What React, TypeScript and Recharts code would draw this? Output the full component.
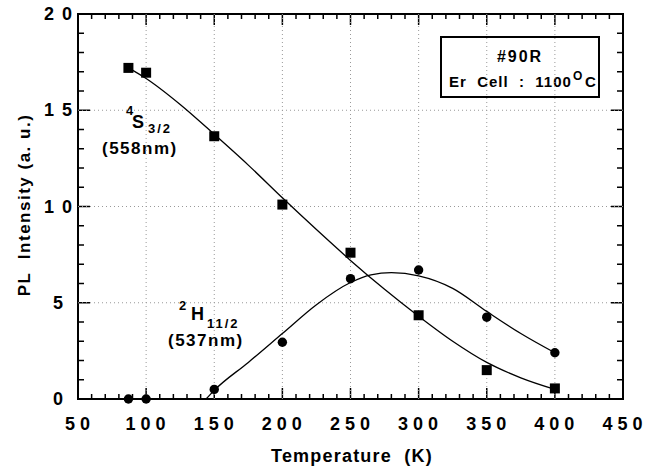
import React from 'react'
import { ComposedChart, Line, Scatter, XAxis, YAxis, ReferenceLine } from 'recharts'

// measured points (K, a.u.)
const temps = [87, 100, 150, 200, 250, 300, 350, 400]
const s32Values = [17.2, 16.95, 13.65, 10.1, 7.6, 4.35, 1.5, 0.55]
const h112Values = [0, 0, 0.5, 2.95, 6.25, 6.7, 4.25, 2.4]

// fitted curves
const s32FitX = [87, 100, 125, 150, 175, 200, 225, 250, 275, 300, 325, 350, 375, 400]
const s32FitY = [17.2, 16.65, 15.3, 13.75, 12.15, 10.45, 8.8, 7.2, 5.7, 4.3, 3.0, 1.9, 1.1, 0.5]
const h112FitX = [144, 150, 175, 200, 225, 250, 265, 280, 300, 325, 350, 375, 400]
const h112FitY = [0, 0.45, 1.9, 3.4, 4.9, 6.05, 6.45, 6.56, 6.4, 5.75, 4.55, 3.4, 2.4]

const xMajor = [50, 100, 150, 200, 250, 300, 350, 400, 450]
const yMajor = [0, 5, 10, 15, 20]
const xGrid = [100, 150, 200, 250, 300, 350, 400]
const yGrid = [5, 10, 15]

const xTicks: number[] = []
for (let v = 50; v <= 450; v += 10) xTicks.push(v)
const yTicks: number[] = []
for (let v = 0; v <= 20; v += 1) yTicks.push(v)

const X0 = 50, X1 = 450, Y0 = 0, Y1 = 20

// chart layout
const W = 659, H = 468
const M = { top: 14, right: 36, bottom: 0, left: 0 }
const XAXIS_H = 69, YAXIS_W = 78
const PL = M.left + YAXIS_W, PR = W - M.right, PT = M.top, PB = H - M.bottom - XAXIS_H
// frame + tick marks are drawn as plain svg (axis lines were not showing up)
const fx = (v: number) => PL + ((v - X0) / (X1 - X0)) * (PR - PL)
const fy = (v: number) => PB - ((v - Y0) / (Y1 - Y0)) * (PB - PT)

const FONT = '"Liberation Sans", Arial, Helvetica, sans-serif'

const zip = (xs: number[], ys: number[]) => xs.map((x, i) => ({ x, y: ys[i] }))
const s32Points = zip(temps, s32Values)
const h112Points = zip(temps, h112Values)
const s32Fit = zip(s32FitX, s32FitY)
const h112Fit = zip(h112FitX, h112FitY)

const BottomTick = ({ x, y, payload }: any) =>
  xMajor.includes(payload.value) ? (
    <text x={x + 2} y={y + 31} textAnchor="middle" fontSize={18} fontWeight="bold"
      letterSpacing={5} fontFamily={FONT} fill="#000">
      {String(payload.value)}
    </text>
  ) : null

const LeftTick = ({ x, y, payload }: any) => {
  if (!yMajor.includes(payload.value)) return null
  const label = String(payload.value)
  const two = label.length > 1
  return (
    <text x={two ? x + 2 : x - 15} y={y + 6} textAnchor="end" fontSize={18} fontWeight="bold"
      letterSpacing={two ? 8 : 0} fontFamily={FONT} fill="#000">
      {label}
    </text>
  )
}

const bold = { fontFamily: FONT, fontWeight: 'bold' as const, fill: '#000' }

export default function App() {
  return (
    <div style={{ width: W, height: H }}>
      <style>{'body{margin:0}'}</style>
      <ComposedChart width={W} height={H} margin={M}>
        <XAxis dataKey="x" type="number" domain={[X0, X1]} ticks={xTicks} interval={0}
          height={XAXIS_H} tickSize={0} tickMargin={0} tickLine={false} axisLine={false}
          tick={<BottomTick />} />
        <YAxis dataKey="y" type="number" domain={[Y0, Y1]} ticks={yTicks} interval={0}
          width={YAXIS_W} tickSize={0} tickMargin={0} tickLine={false} axisLine={false}
          tick={<LeftTick />} />

        {/* dotted grid at major ticks */}
        {xGrid.map((v) => (
          <ReferenceLine key={'gx' + v} x={v} stroke="#999" strokeDasharray="1 3" />
        ))}
        {yGrid.map((v) => (
          <ReferenceLine key={'gy' + v} y={v} stroke="#999" strokeDasharray="1 3" />
        ))}

        <Line data={s32Fit} dataKey="y" type="monotone" stroke="#000" strokeWidth={1.3}
          dot={false} activeDot={false} isAnimationActive={false} />
        <Line data={h112Fit} dataKey="y" type="monotone" stroke="#000" strokeWidth={1.3}
          dot={false} activeDot={false} isAnimationActive={false} />
        <Scatter data={s32Points} dataKey="y" fill="#000" isAnimationActive={false}
          shape={(p: any) => <rect x={p.cx - 5} y={p.cy - 5} width={10} height={10} fill="#000" />} />
        <Scatter data={h112Points} dataKey="y" fill="#000" isAnimationActive={false}
          shape={(p: any) => <circle cx={p.cx} cy={p.cy} r={4.7} fill="#000" />} />

        {/* frame with inward ticks on all four sides */}
        <rect x={PL} y={PT} width={PR - PL} height={PB - PT} fill="none" stroke="#000" strokeWidth={2} />
        {xTicks.map((v) => {
          const len = xMajor.includes(v) ? 11 : 5
          return (
            <g key={'tx' + v} stroke="#000" strokeWidth={1.5}>
              <line x1={fx(v)} x2={fx(v)} y1={PB} y2={PB - len} />
              <line x1={fx(v)} x2={fx(v)} y1={PT} y2={PT + len} />
            </g>
          )
        })}
        {yTicks.map((v) => {
          const len = yMajor.includes(v) ? 12 : 6
          return (
            <g key={'ty' + v} stroke="#000" strokeWidth={1.5}>
              <line x1={PL} x2={PL + len} y1={fy(v)} y2={fy(v)} />
              <line x1={PR} x2={PR - len} y1={fy(v)} y2={fy(v)} />
            </g>
          )
        })}

        {/* axis titles */}
        <text x={352} y={462} textAnchor="middle" fontSize={18} letterSpacing={1.2} {...bold}>
          {'Temperature\u00a0\u00a0(K)'}
        </text>
        <text transform="translate(30,205) rotate(-90)" textAnchor="middle" fontSize={17}
          letterSpacing={1.5} {...bold}>
          {'PL\u00a0\u00a0Intensity (a. u.)'}
        </text>

        {/* 4S3/2 label */}
        <text x={126} y={115} fontSize={13} {...bold}>4</text>
        <text x={132} y={128} fontSize={18} {...bold}>S</text>
        <text x={148} y={133} fontSize={13} letterSpacing={2} {...bold}>3/2</text>
        <text x={102} y={154} fontSize={17} letterSpacing={1.5} {...bold}>(558nm)</text>

        {/* 2H11/2 label */}
        <text x={179} y={310} fontSize={13} {...bold}>2</text>
        <text x={191} y={320} fontSize={18} {...bold}>H</text>
        <text x={207} y={328} fontSize={13} letterSpacing={2} {...bold}>11/2</text>
        <text x={168} y={346} fontSize={17} letterSpacing={1.5} {...bold}>(537nm)</text>

        {/* sample box */}
        <rect x={441} y={37} width={158} height={60} fill="#fff" stroke="#000" strokeWidth={2} />
        <text x={520} y={62} textAnchor="middle" fontSize={16} letterSpacing={2} {...bold}>#90R</text>
        <text x={449} y={87} fontSize={15} letterSpacing={1} {...bold}>{'Er\u00a0 Cell\u00a0 :\u00a0 1100'}</text>
        <text x={573} y={80} fontSize={12} {...bold}>O</text>
        <text x={585} y={87} fontSize={15} {...bold}>C</text>
      </ComposedChart>
    </div>
  )
}
